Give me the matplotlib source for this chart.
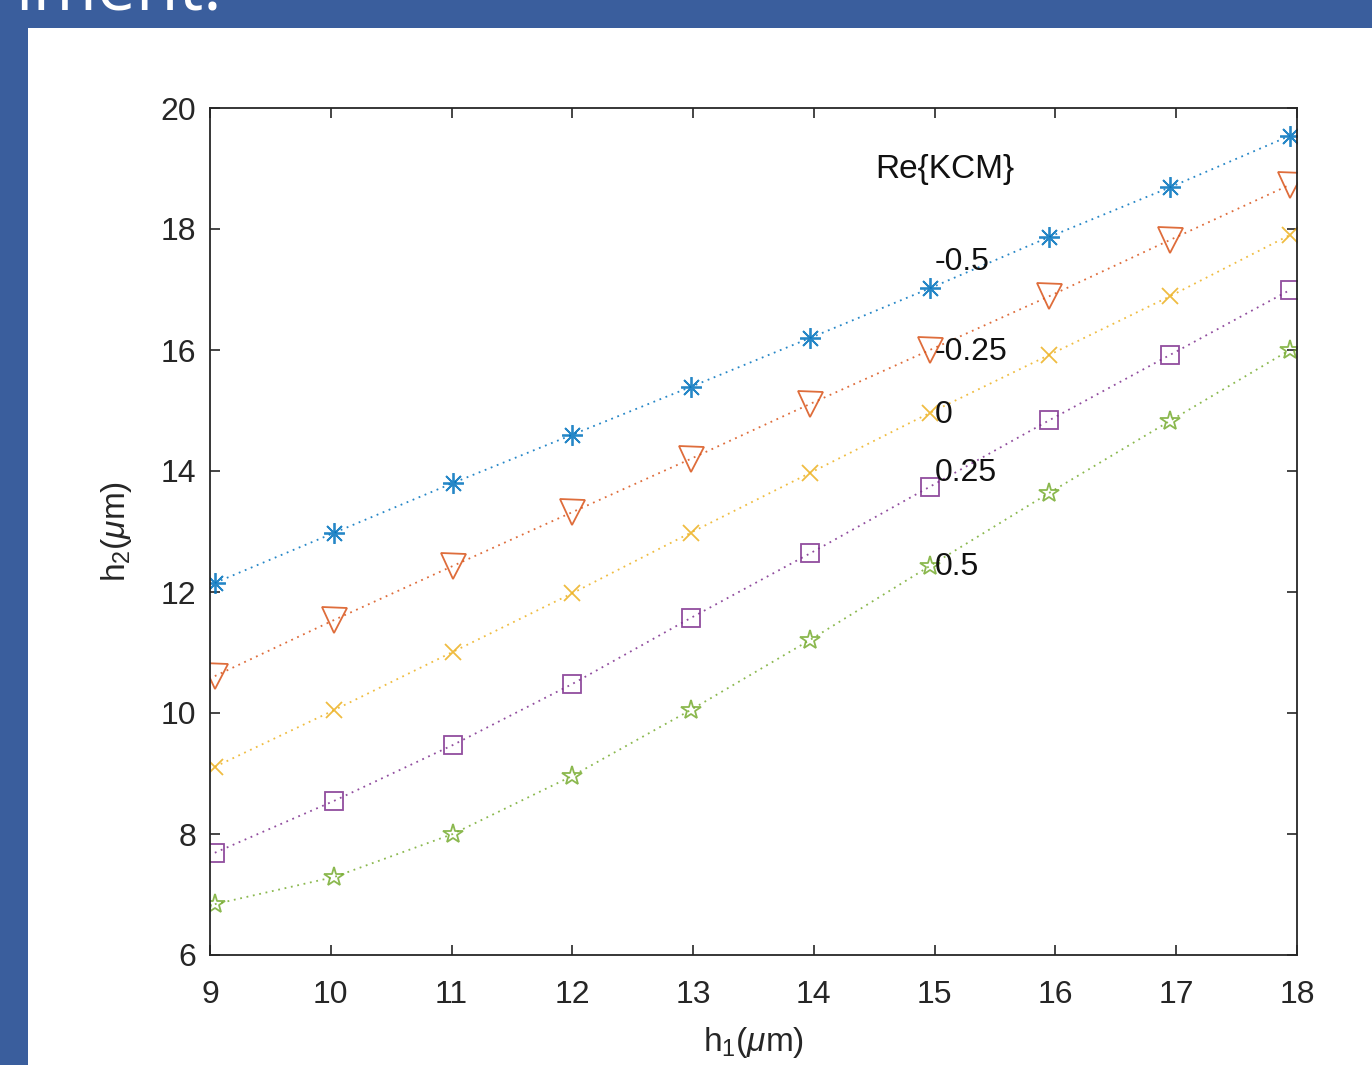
"""Recreate the h1 vs h2 chart for several Re{KCM} values"""
import matplotlib
matplotlib.use("Agg")
import matplotlib.pyplot as plt
from matplotlib.patches import Rectangle

plt.rcParams["font.family"] = ["Liberation Sans", "DejaVu Sans"]
plt.rcParams["mathtext.fontset"] = "custom"
plt.rcParams["mathtext.rm"] = "Liberation Sans"
plt.rcParams["mathtext.it"] = "Liberation Sans:italic"

# data
h1 = [9.04, 10.03, 11.01, 12.0, 12.98, 13.97, 14.96, 15.95, 16.95, 17.94]
h2_m050 = [12.15, 12.98, 13.80, 14.60, 15.39, 16.20, 17.02, 17.87, 18.69, 19.54]
h2_m025 = [10.61, 11.54, 12.43, 13.32, 14.20, 15.11, 16.00, 16.89, 17.82, 18.73]
h2_000 = [9.11, 10.05, 11.01, 11.98, 12.98, 13.97, 14.96, 15.92, 16.89, 17.90]
h2_p025 = [7.69, 8.55, 9.47, 10.48, 11.57, 12.64, 13.74, 14.84, 15.92, 16.99]
h2_p050 = [6.84, 7.29, 8.00, 8.96, 10.05, 11.21, 12.43, 13.64, 14.83, 16.00]
kcm_labels = ["-0.5", "-0.25", "0", "0.25", "0.5"]
label_y = [17.45, 15.97, 14.93, 13.97, 12.41]

series = [h2_m050, h2_m025, h2_000, h2_p025, h2_p050]
colors = ["#0072BD", "#D95319", "#EDB120", "#7E2F8E", "#77AC30"]
markers = [(8, 2, 0), "v", "x", "s", "*"]
msizes = [15, 18, 11, 13, 15]

fig = plt.figure(figsize=(13.72, 10.65), dpi=100, facecolor="#3A5E9D")
# white slide panel, drawn behind the axes
fig.patches.append(Rectangle((28 / 1372, 0), 1, 1 - 28 / 1065, transform=fig.transFigure,
                             facecolor="white", edgecolor="none", zorder=-10))
fig.text(16 / 1372, 1 - 9 / 1065, "iment.", color="white", fontsize=50,
         family=["Open Sans", "DejaVu Sans"], va="baseline", ha="left")

ax = fig.add_axes([210 / 1372, 1 - 955 / 1065, 1087 / 1372, 847 / 1065], zorder=1)
for ys, c, m, ms in zip(series, colors, markers, msizes):
    ax.plot(h1, ys, linestyle=(0, (1, 2.6)), linewidth=1.3, color=c, alpha=0.85,
            marker=m, markersize=ms, markerfacecolor="none", markeredgecolor=c,
            markeredgewidth=1.3)

ax.text(14.505, 18.98, "Re{KCM}", fontsize=24, va="center", ha="left", color="#111111")
for lab, y in zip(kcm_labels, label_y):
    ax.text(15.0, y, lab, fontsize=23, va="center", ha="left", color="#111111")

ax.set_xlim(9, 18)
ax.set_ylim(6, 20)
ax.set_xticks(range(9, 19))
ax.set_yticks(range(6, 21, 2))
ax.tick_params(direction="in", length=7, width=1.2, colors="#262626", labelsize=23,
               top=True, right=True)
ax.tick_params(axis="x", pad=18)
ax.tick_params(axis="y", pad=10)
for sp in ax.spines.values():
    sp.set_color("#262626")
    sp.set_linewidth(1.3)
ax.set_xlabel(r"h$_1$($\mu$m)", fontsize=24, color="#262626", labelpad=11)
ax.set_ylabel(r"h$_2$($\mu$m)", fontsize=24, color="#262626", labelpad=19)

fig.savefig("out.png", dpi=100, facecolor=fig.get_facecolor())
